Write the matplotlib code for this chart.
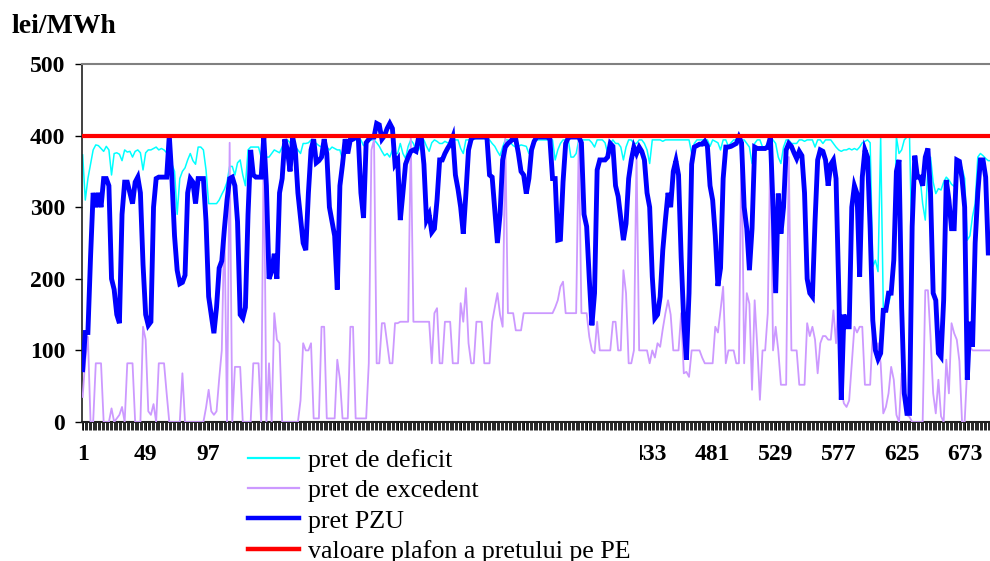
import matplotlib
matplotlib.use("Agg")
import matplotlib.pyplot as plt
from matplotlib.lines import Line2D
from matplotlib.patches import Rectangle
import numpy as np

plt.rcParams['font.family'] = ['Liberation Serif', 'DejaVu Serif']

# ---- data: 29 days x 12 two-hour samples (lei/MWh) ----
pret_pzu = [
    73,125,125,230,320,300,320,300,340,340,330,200,
    185,150,138,290,335,335,320,305,335,342,320,220,
    150,135,140,300,340,342,342,342,342,400,340,260,
    212,193,195,205,320,340,335,305,340,340,340,280,
    175,150,124,160,215,225,270,310,340,342,330,280,
    150,145,160,290,380,345,342,342,342,398,330,200,
    210,235,200,320,340,395,380,350,398,380,320,285,
    250,240,320,380,395,362,365,370,395,375,300,280,
    260,185,330,360,395,375,395,395,398,398,320,285,
    390,395,398,398,417,415,395,400,410,417,410,360,
    366,282,320,360,370,378,380,378,398,398,360,282,
    290,265,270,310,366,366,375,382,388,398,345,325,
    300,263,319,380,395,398,398,398,398,398,398,345,
    342,296,250,290,366,384,389,392,396,395,375,350,
    345,319,340,380,392,398,398,398,398,398,395,340,
    340,254,255,335,389,397,398,398,398,398,390,290,
    273,200,135,180,352,366,366,366,370,389,385,330,
    315,285,254,277,340,366,384,375,384,378,366,320,
    300,203,145,150,175,240,282,320,300,350,365,345,
    230,140,87,180,360,384,386,388,388,392,385,330,
    310,260,190,215,340,384,384,385,387,389,398,390,
    300,270,212,270,384,382,382,382,382,384,398,300,
    180,319,263,300,380,389,385,376,368,378,372,320,
    200,180,175,280,366,380,378,366,330,360,366,340,
    190,31,150,133,133,300,330,319,203,342,380,370,
    270,142,100,88,96,156,156,180,180,226,350,366,
    160,40,12,12,273,372,342,342,330,370,382,320,
    180,170,96,91,170,338,310,270,270,366,364,340,
    300,59,140,105,250,320,366,366,342,236,236,236,
]

pret_deficit = [
    373,310,340,360,380,387,386,382,378,385,380,345,
    375,376,374,365,380,377,378,370,378,380,376,352,
    376,380,380,382,384,380,382,380,376,370,360,350,
    290,340,350,355,366,375,365,360,384,384,380,352,
    305,305,305,305,310,318,325,335,357,357,345,362,
    366,345,330,380,384,384,384,384,370,366,370,370,
    375,380,378,376,384,394,394,390,382,384,380,375,
    389,389,390,394,390,389,386,384,380,384,380,384,
    382,380,380,366,384,390,394,394,394,394,394,386,
    389,392,394,394,390,385,378,372,375,370,380,375,
    375,389,375,368,385,394,389,378,380,389,394,385,
    378,390,394,392,389,389,392,390,389,394,394,394,
    382,375,394,394,394,395,396,396,396,396,394,394,
    389,385,378,372,384,394,394,390,386,384,385,387,
    386,385,375,385,392,394,394,394,394,394,394,394,
    366,380,389,394,394,394,370,370,375,394,394,394,
    394,394,390,384,394,394,394,390,375,389,394,389,
    389,384,366,384,394,394,389,389,394,394,389,380,
    361,394,394,394,394,392,394,394,394,394,394,394,
    394,394,394,394,375,389,394,394,394,394,394,385,
    394,392,390,380,394,394,385,390,394,394,394,394,
    394,389,384,361,389,394,394,384,384,390,394,394,
    389,370,361,384,394,394,389,389,389,394,394,392,
    394,394,394,384,394,394,389,394,394,394,389,384,
    380,378,380,380,382,380,382,380,384,390,392,394,
    390,217,226,210,398,160,160,165,180,250,398,375,
    380,394,398,398,230,370,347,342,305,282,355,370,
    335,319,326,324,335,342,338,332,329,355,362,355,
    340,254,260,287,305,370,375,372,368,365,365,365,
]

pret_excedent = [
    35,87,119,0,0,82,82,82,0,0,0,19,
    0,5,10,21,0,82,82,82,0,0,0,133,
    115,15,10,25,0,82,82,82,40,0,0,0,
    0,0,68,0,0,0,0,0,0,0,0,20,
    45,15,10,15,60,100,282,0,390,0,77,77,
    77,0,0,0,0,82,82,82,0,398,0,82,
    0,152,115,110,0,0,0,0,0,0,0,30,
    110,100,100,110,5,5,5,133,133,5,5,5,
    5,87,60,5,5,5,133,133,5,5,5,5,
    5,82,380,394,82,82,138,138,110,82,82,138,
    138,140,140,140,140,398,140,140,140,140,140,140,
    140,82,152,159,82,82,140,140,140,82,82,82,
    166,140,187,110,82,82,140,140,140,82,82,82,
    140,160,180,150,133,398,152,152,152,128,128,128,
    152,152,152,152,152,152,152,152,152,152,152,152,
    160,170,189,196,152,152,152,152,152,398,152,152,
    152,119,100,96,140,100,100,100,100,100,140,140,
    100,100,212,180,82,82,100,375,100,100,100,100,
    82,100,90,110,105,130,152,170,150,100,100,100,
    152,68,70,63,100,100,100,100,90,82,82,82,
    82,133,125,156,189,82,100,100,100,82,82,398,
    82,180,165,45,170,105,31,100,100,152,398,100,
    133,100,52,52,52,370,100,100,100,52,52,52,
    138,120,133,115,68,110,120,120,115,115,156,110,
    180,45,26,21,30,82,133,125,133,133,52,52,
    52,128,100,110,82,12,21,40,77,59,10,0,
    68,30,10,7,0,0,0,0,0,184,184,119,
    40,12,59,8,0,87,40,138,124,115,85,0,
    0,77,105,100,100,100,100,100,100,100,100,100,
]

plafon = 400
ore = list(range(1, 2 * len(pret_pzu), 2))          # hour index of each sample
n_ore = 696
tick_labels = [str(v) for v in range(1, n_ore, 48)]
y_ticks = [0, 100, 200, 300, 400, 500]

labels = ["pret de deficit", "pret de excedent", "pret PZU",
          "valoare plafon a pretului pe PE"]
colors = ["#00FFFF", "#CC99FF", "#0000FF", "#FF0000"]

W, H = 990, 561
fig = plt.figure(figsize=(W / 100, H / 100), dpi=100)
ax = fig.add_axes([82 / W, 139 / H, 913.5 / W, 358 / H])

ax.plot(ore, pret_deficit, color=colors[0], lw=1.1, zorder=2)
ax.plot(ore, pret_excedent, color=colors[1], lw=1.3, zorder=3)
ax.plot(ore, pret_pzu, color=colors[2], lw=3.5, zorder=4,
        solid_joinstyle='miter')
ax.axhline(plafon, color=colors[3], lw=3.0, zorder=5)

ax.set_xlim(0.5, n_ore + 0.5)
ax.set_ylim(0, 500)

ax.set_xticks([int(t) for t in tick_labels])
ax.set_xticklabels(tick_labels)
ax.set_xticks(np.arange(0.5, n_ore + 1, 1), minor=True)
ax.tick_params(axis='x', which='major', length=6, width=0.6, pad=10,
               labelsize=17, direction='out')
ax.tick_params(axis='x', which='minor', length=6, width=0.6,
               direction='out')
ax.set_yticks(y_ticks)
ax.set_yticklabels([str(v) for v in y_ticks])
ax.tick_params(axis='y', length=5, width=1.0, pad=7, labelsize=17,
               direction='out')
for lab in ax.get_xticklabels() + ax.get_yticklabels():
    lab.set_fontweight('bold')

ax.spines['right'].set_visible(False)
ax.spines['top'].set_color('#808080')
ax.spines['top'].set_linewidth(1.5)
ax.spines['left'].set_color('#202020')
ax.spines['left'].set_linewidth(1.2)
ax.spines['bottom'].set_color('#202020')
ax.spines['bottom'].set_linewidth(1.5)

fig.text(11 / W, 1 - 33 / H, "lei/MWh", fontsize=20, fontweight='bold',
         va='baseline', ha='left')

# legend area (white) covers part of the category labels, as in the original
box_x0, box_x1 = 240, 640
fig.add_artist(Rectangle((box_x0 / W, 0), (box_x1 - box_x0) / W,
                         (H - 436) / H, transform=fig.transFigure,
                         facecolor='white', edgecolor='none', zorder=4))
# labels lying fully under the legend area are not visible
for lab, t in zip(ax.get_xticklabels(), tick_labels):
    xpix = 82 + (int(t) - 0.5) * 913.5 / n_ore
    if box_x0 + 10 < xpix < box_x1 - 20:
        lab.set_visible(False)

handles = [Line2D([], [], color=colors[0], lw=1.6),
           Line2D([], [], color=colors[1], lw=1.6),
           Line2D([], [], color=colors[2], lw=3.2),
           Line2D([], [], color=colors[3], lw=3.2)]
leg = fig.legend(handles, labels, loc='upper left',
                 bbox_to_anchor=(248 / W, 1 - 449 / H),
                 frameon=False, fontsize=18.7, handlelength=1.95,
                 handletextpad=0.36, labelspacing=0.27,
                 borderpad=0, borderaxespad=0)
leg.set_zorder(6)

fig.savefig("out.png", dpi=100)
